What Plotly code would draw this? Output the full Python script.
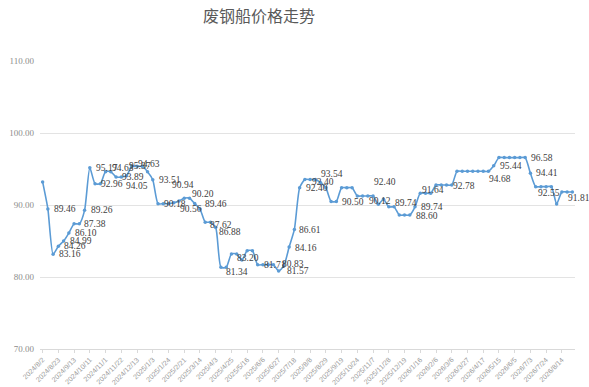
import plotly.graph_objects as go

dates = [
    "2024/8/2", "2024/8/9", "2024/8/16", "2024/8/23", "2024/8/30", "2024/9/6",
    "2024/9/13", "2024/9/20", "2024/9/27", "2024/10/11", "2024/10/18", "2024/10/25",
    "2024/11/1", "2024/11/8", "2024/11/15", "2024/11/22", "2024/11/29", "2024/12/6",
    "2024/12/13", "2024/12/20", "2024/12/27", "2025/1/3", "2025/1/10", "2025/1/17",
    "2025/1/24", "2025/2/7", "2025/2/14", "2025/2/21", "2025/2/28", "2025/3/7",
    "2025/3/14", "2025/3/21", "2025/3/28", "2025/4/3", "2025/4/11", "2025/4/18",
    "2025/4/25", "2025/4/30", "2025/5/9", "2025/5/16", "2025/5/23", "2025/5/30",
    "2025/6/6", "2025/6/13", "2025/6/20", "2025/6/27", "2025/7/4", "2025/7/11",
    "2025/7/18", "2025/7/25", "2025/8/1", "2025/8/8", "2025/8/15", "2025/8/22",
    "2025/8/29", "2025/9/5", "2025/9/12", "2025/9/19", "2025/9/26", "2025/10/17",
    "2025/10/24", "2025/10/29", "2025/11/3", "2025/11/7", "2025/11/14", "2025/11/21",
    "2025/11/28", "2025/12/5", "2025/12/12", "2025/12/19", "2025/12/26", "2026/1/9",
    "2026/1/16", "2026/1/23", "2026/1/30", "2026/2/6", "2026/2/13", "2026/2/27",
    "2026/3/6", "2026/3/13", "2026/3/20", "2026/3/27", "2026/4/3", "2026/4/10",
    "2026/4/17", "2026/4/24", "2026/5/8", "2026/5/15", "2026/5/22", "2026/5/29",
    "2026/6/5", "2026/6/12", "2026/6/26", "2026/7/3", "2026/7/10", "2026/7/17",
    "2026/7/24", "2026/7/31", "2026/8/7", "2026/8/14", "2026/8/21", "2026/8/28",
]

prices = [
    93.20, 89.46, 83.16, 84.26, 84.99, 86.10, 87.38, 87.38, 89.26, 95.17,
    92.96, 92.96, 94.63, 94.63, 93.89, 93.89, 94.05, 95.37, 95.37, 95.37,
    94.63, 93.51, 90.18, 90.18, 90.18, 90.30, 90.56, 90.94, 90.94, 90.20,
    89.46, 87.62, 87.62, 86.88, 81.34, 81.34, 83.20, 83.20, 82.36, 83.66,
    83.66, 81.71, 81.71, 81.71, 81.71, 80.83, 81.57, 84.16, 86.61, 92.40,
    93.54, 93.54, 93.54, 93.10, 92.40, 90.50, 90.50, 92.40, 92.40, 92.40,
    91.26, 91.26, 91.26, 91.26, 90.12, 90.80, 89.74, 89.74, 88.60, 88.60,
    88.60, 89.74, 91.64, 91.64, 91.64, 92.78, 92.78, 92.78, 92.78, 94.68,
    94.68, 94.68, 94.68, 94.68, 94.68, 94.68, 95.44, 96.58, 96.58, 96.58,
    96.58, 96.58, 96.58, 94.41, 92.55, 92.55, 92.55, 92.55, 90.14, 91.81,
    91.81, 91.81,
]

tick_labels = dates[::3]
y_ticks = [70, 80, 90, 100, 110]

# indices of points that carry a data label
label_idx = [1, 2, 3, 4, 5, 7, 8, 9, 10, 12, 14, 16, 17, 20, 21, 22, 26, 27, 29, 30,
             31, 33, 34, 36, 41, 45, 46, 47, 48, 49, 52, 54, 56, 57, 64, 67, 70, 71,
             72, 77, 85, 86, 92, 93, 96, 100]
# pixel offsets of each label relative to its point (layout only)
label_dx = [5, 5, 5, 5, 5, 4, 5, 5, 5, 5, 5, -2, -4, -11, 5, 5, 0, -13, -4, 4,
            4, 2, 4, 5, 5, 2, 2, 5, 4, 5, 5, -15, 5, 31, -10, 0, 5, 5,
            1, 5, 0, 5, 5, 5, -9, 0]
label_dy = [0, 0, 0, 0, 0, 0, 0, 0, 0, 4, 0, -10, 0, 8, 0, 0, -8, 13, 10, 5,
            -3, -5, -5, -4, 0, 7, -5, -1, -1, 0, 6, 6, -1, 6, 3, 4, -1, 0,
            3, -1, -8, 0, 0, 0, -6, -6]

color = "#5B9BD5"

fig = go.Figure()
fig.add_trace(go.Scatter(
    x=dates, y=prices, mode="lines+markers",
    line=dict(color=color, width=1.6, shape="spline", smoothing=0.6),
    marker=dict(color=color, size=3.5),
    hoverinfo="x+y",
    showlegend=False,
))

annotations = []
for i, dx, dy in zip(label_idx, label_dx, label_dy):
    annotations.append(dict(
        x=dates[i], y=prices[i], xref="x", yref="y",
        text=f"{prices[i]:.2f}", showarrow=False,
        xanchor="left", yanchor="middle", xshift=dx, yshift=dy,
        borderpad=0,
        font=dict(family="Liberation Serif", size=9.5, color="#404040"),
    ))

fig.update_layout(
    width=589, height=387,
    margin=dict(l=40, r=14, t=61, b=38),
    paper_bgcolor="white", plot_bgcolor="white",
    title=dict(text="废钢船价格走势", x=259 / 589, xanchor="center",
               y=1 - 16 / 387, yanchor="middle", xref="container", yref="container",
               font=dict(family="Noto Sans CJK SC", size=16, color="#595959")),
    annotations=annotations,
    xaxis=dict(
        type="category", range=[-0.5, len(dates) - 0.5], automargin=False,
        tickmode="array", tickvals=tick_labels, ticktext=tick_labels,
        tickangle=-45, tickfont=dict(family="Liberation Sans", size=7, color="#999999"),
        showgrid=False, showline=True, linecolor="#d9d9d9", linewidth=1,
        ticks="outside", ticklen=3, tickcolor="#d9d9d9", zeroline=False,
    ),
    yaxis=dict(
        range=[70, 110], tickmode="array", tickvals=y_ticks, automargin=False,
        ticktext=[f"{v:.2f}" for v in y_ticks],
        tickfont=dict(family="Liberation Serif", size=9, color="#8c8c8c"),
        showgrid=True, gridcolor="#e3e3e3", gridwidth=1,
        showline=False, zeroline=False, ticks="", ticklabelstandoff=5,
    ),
)

fig.write_html("out.html")
